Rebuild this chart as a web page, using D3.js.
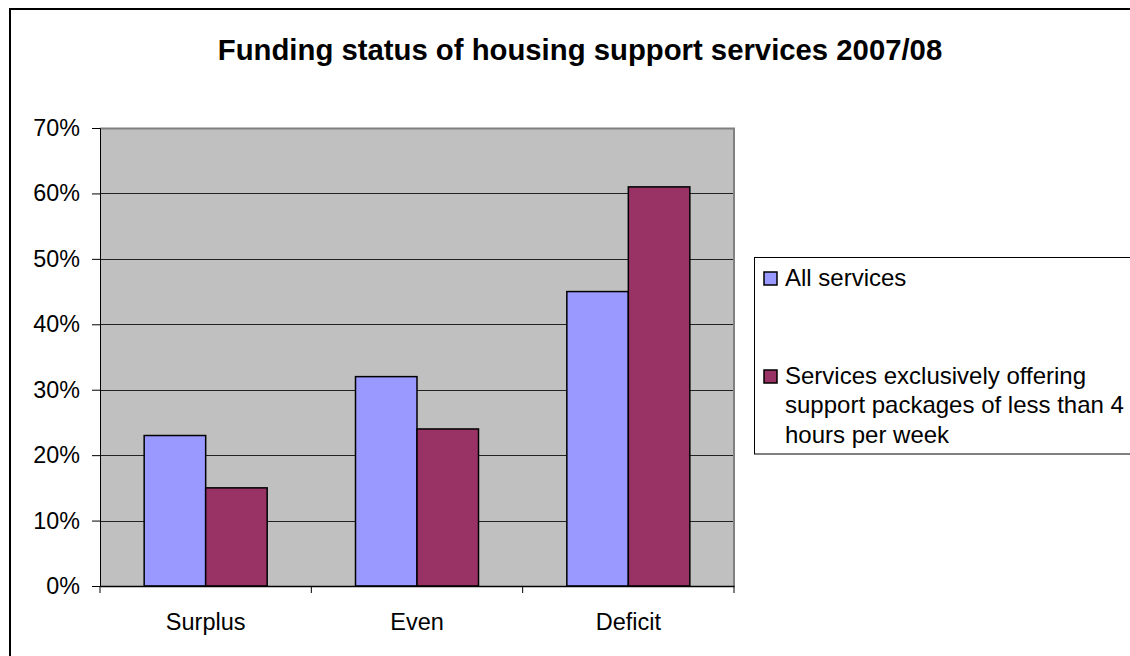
<!DOCTYPE html>
<html>
<head>
<meta charset="utf-8">
<script src="https://cdn.jsdelivr.net/npm/d3@7"></script>
<style>
  html, body { margin: 0; padding: 0; background: #fff; }
  svg { display: block; }
  text { font-family: "Liberation Sans", Arial, sans-serif; fill: #000; }
</style>
</head>
<body>
<svg id="chart" width="1130" height="656"></svg>
<script>
// Data
const categories = ["Surplus", "Even", "Deficit"];
const seriesNames = ["All services", "Services exclusively offering support packages of less than 4 hours per week"];
const allServices = [0.23, 0.32, 0.45];
const shortPackages = [0.15, 0.24, 0.61];
const yTicks = [0, 0.1, 0.2, 0.3, 0.4, 0.5, 0.6, 0.7];
const legendLines = [["All services"], ["Services exclusively offering", "support packages of less than 4", "hours per week"]];
const colors = ["#9999FF", "#993366"];

const svg = d3.select("#chart");

// Outer chart frame (runs past the right and bottom edges)
svg.append("rect")
  .attr("x", 10).attr("y", 9)
  .attr("width", 1140).attr("height", 670)
  .attr("fill", "#fff").attr("stroke", "#000").attr("stroke-width", 2);

// Title
svg.append("text")
  .attr("x", 580).attr("y", 60)
  .attr("text-anchor", "middle")
  .style("font-weight", "bold").style("font-size", "29.3px")
  .text("Funding status of housing support services 2007/08");

const plot = { left: 100, right: 734, top: 128, bottom: 586 };

const x = d3.scaleBand().domain(categories).range([plot.left, plot.right]);
const y = d3.scaleLinear().domain([0, 0.7]).range([plot.bottom, plot.top]);
const barW = x.bandwidth() * 0.291;
const xSub = d3.scaleBand().domain([0, 1]).range([-barW, barW]);

// Plot background
svg.append("rect")
  .attr("x", plot.left).attr("y", plot.top)
  .attr("width", plot.right - plot.left).attr("height", plot.bottom - plot.top)
  .attr("fill", "#C0C0C0");

// Gridlines
svg.append("g").selectAll("line")
  .data(yTicks.filter(d => d > 0 && d < 0.7))
  .join("line")
  .attr("x1", plot.left).attr("x2", plot.right)
  .attr("y1", d => Math.round(y(d)) + 0.5).attr("y2", d => Math.round(y(d)) + 0.5)
  .attr("stroke", "#222").attr("stroke-width", 1);

// Plot border top and right (grey)
svg.append("path")
  .attr("d", `M${plot.left},${plot.top + 0.5}H${plot.right}V${plot.bottom}`)
  .attr("fill", "none").attr("stroke", "#808080").attr("stroke-width", 2);

// Bars
const series = [allServices, shortPackages];
series.forEach((vals, si) => {
  svg.append("g").selectAll("rect")
    .data(vals)
    .join("rect")
    .attr("x", (d, i) => x(categories[i]) + x.bandwidth() / 2 + xSub(si))
    .attr("y", d => y(d))
    .attr("width", xSub.bandwidth())
    .attr("height", d => y(0) - y(d))
    .attr("fill", colors[si])
    .attr("stroke", "#000").attr("stroke-width", 1.5);
});

// Y axis
const yAxis = svg.append("g")
  .attr("transform", `translate(${plot.left},0)`)
  .call(d3.axisLeft(y).tickValues(yTicks).tickFormat(d3.format(".0%")).tickSize(8).tickPadding(12));
yAxis.select(".domain").attr("stroke", "#000").attr("stroke-width", 1);
yAxis.selectAll(".tick line").attr("stroke", "#000");
yAxis.selectAll("text").style("font-size", "23.3px").style("font-family", "Liberation Sans, Arial, sans-serif");

// X axis
const xAxis = svg.append("g")
  .attr("transform", `translate(0,${plot.bottom})`)
  .call(d3.axisBottom(x).tickSize(0).tickPadding(27));
xAxis.select(".domain").attr("stroke", "#000").attr("stroke-width", 1.5);
xAxis.selectAll("text").style("font-size", "23.5px").style("font-family", "Liberation Sans, Arial, sans-serif");
// Category divider ticks
const bounds = [plot.left, ...categories.map(c => x(c) + x.bandwidth())];
svg.append("g").selectAll("line")
  .data(bounds)
  .join("line")
  .attr("x1", d => d).attr("x2", d => d)
  .attr("y1", plot.bottom).attr("y2", plot.bottom + 7)
  .attr("stroke", "#000");

// Legend
const legend = svg.append("g");
legend.append("rect")
  .attr("x", 754.5).attr("y", 257.5)
  .attr("width", 400).attr("height", 196.5)
  .attr("fill", "#fff").attr("stroke", "#000").attr("stroke-width", 1);

const legendTop = [285.5, 383.5];
legendLines.forEach((lines, si) => {
  legend.append("rect")
    .attr("x", 764).attr("y", legendTop[si] - 13.5)
    .attr("width", 13).attr("height", 13)
    .attr("fill", colors[si]).attr("stroke", "#000").attr("stroke-width", 1.5);
  const t = legend.append("text")
    .attr("x", 785).attr("y", legendTop[si])
    .style("font-size", "24px");
  lines.forEach((ln, li) => {
    t.append("tspan").attr("x", 785).attr("y", legendTop[si] + li * 29.5).text(ln);
  });
});
</script>
</body>
</html>
